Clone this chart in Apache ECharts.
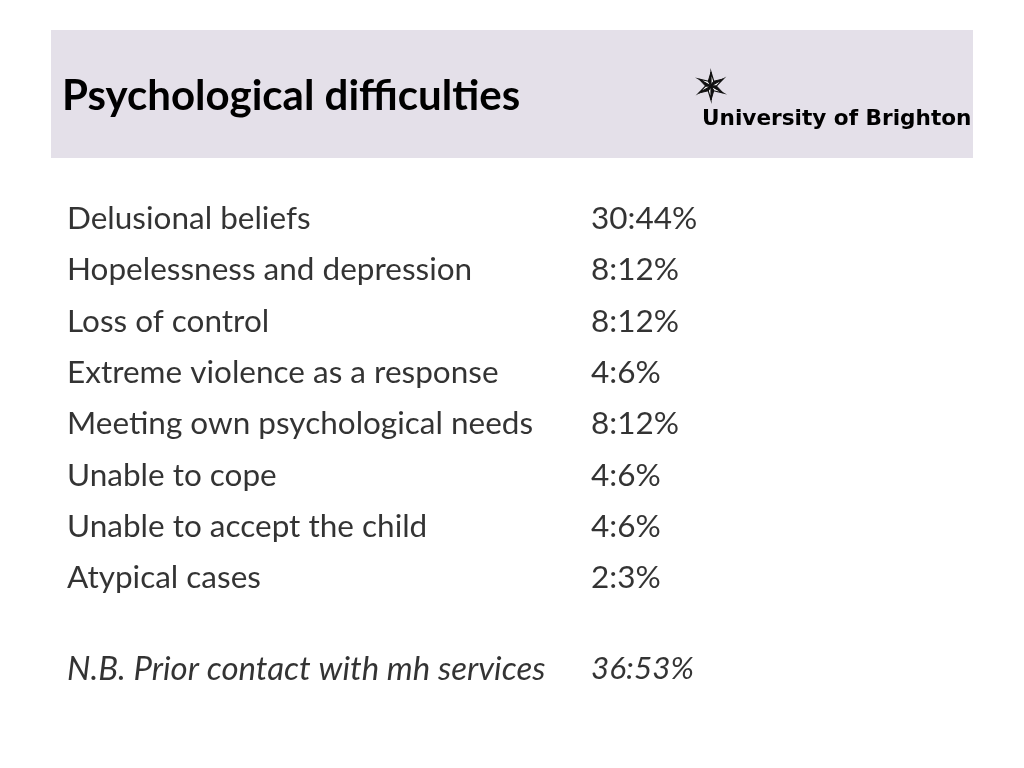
<!DOCTYPE html>
<html><head><meta charset="utf-8">
<script src="https://cdn.jsdelivr.net/npm/echarts@6/dist/echarts.min.js"></script>
<style>html,body{margin:0;padding:0;background:#fff}#c{width:1024px;height:768px}</style>
</head><body><div id="c"></div>
<script>
const slideTitle = 'Psychological difficulties';
const logoText = 'University of Brighton';
const columns = ['Difficulty', 'Cases'];
const categories = [
  'Delusional beliefs',
  'Hopelessness and depression',
  'Loss of control',
  'Extreme violence as a response',
  'Meeting own psychological needs',
  'Unable to cope',
  'Unable to accept the child',
  'Atypical cases'
];
const counts = [30, 8, 8, 4, 8, 4, 4, 2];
const percents = [44, 12, 12, 6, 12, 6, 6, 3];
const noteCategories = ['N.B. Prior contact with mh services'];
const noteCounts = [36];
const notePercents = [53];

const FONT = 'Lato';
const chart = echarts.init(document.getElementById('c'), null, {renderer: 'canvas'});

function rows(cats, cnts, pcts, nameSize) {
  const out = [];
  cats.forEach((c, i) => {
    const item = {value: [columns[0], c], name: c};
    if (nameSize) item.label = {fontSize: nameSize};
    out.push(item);
    out.push({value: [columns[1], c], name: cnts[i] + ':' + pcts[i] + '%'});
  });
  return out;
}

// star logo decoration
const starEls = [];
const cx = 711, cy = 86, R = 14, r = 5.5;
for (let k = 0; k < 6; k++) {
  const a = -Math.PI / 2 + k * Math.PI / 3;
  const tip = [cx + R * Math.cos(a), cy + R * Math.sin(a)];
  const l = [cx + r * Math.cos(a - Math.PI / 6), cy + r * Math.sin(a - Math.PI / 6)];
  const rr = [cx + r * Math.cos(a + Math.PI / 6), cy + r * Math.sin(a + Math.PI / 6)];
  starEls.push({type: 'polygon', shape: {points: [[cx, cy], l, tip]}, style: {fill: '#111', stroke: '#111', lineWidth: 1}});
  starEls.push({type: 'polygon', shape: {points: [[cx, cy], tip, rr]}, style: {fill: '#fff', stroke: '#111', lineWidth: 1.2}});
}

const labelBase = {show: true, position: 'right', distance: 0, formatter: '{b}', color: '#000',
  fontFamily: FONT, fontSize: 31.5, verticalAlign: 'middle'};

chart.setOption({
  animation: false,
  backgroundColor: '#ffffff',
  graphic: [
    {type: 'rect', shape: {x: 51, y: 30, width: 922, height: 128}, style: {fill: '#e4e0e9'}, z: -10},
    {type: 'text', x: 62, y: 96, style: {text: slideTitle, font: 'bold 42px Lato', fill: '#000', verticalAlign: 'middle'}},
    {type: 'text', x: 702, y: 119, style: {text: logoText, font: 'bold 21.6px "DejaVu Sans"', fill: '#000', verticalAlign: 'middle'}},
    ...starEls
  ],
  grid: [
    {left: 67, right: 433, top: 193, height: 411},
    {left: 67, right: 433, top: 643, height: 52}
  ],
  xAxis: [
    {gridIndex: 0, type: 'category', data: columns, boundaryGap: false, show: false},
    {gridIndex: 1, type: 'category', data: columns, boundaryGap: false, show: false}
  ],
  yAxis: [
    {gridIndex: 0, type: 'category', data: categories, inverse: true, show: false},
    {gridIndex: 1, type: 'category', data: noteCategories, inverse: true, show: false}
  ],
  series: [
    {type: 'scatter', xAxisIndex: 0, yAxisIndex: 0, symbolSize: 0, silent: true,
     data: rows(categories, counts, percents), label: labelBase},
    {type: 'scatter', xAxisIndex: 1, yAxisIndex: 1, symbolSize: 0, silent: true,
     data: rows(noteCategories, noteCounts, notePercents, 33), label: Object.assign({}, labelBase, {fontStyle: 'italic'})}
  ]
});
</script></body></html>
